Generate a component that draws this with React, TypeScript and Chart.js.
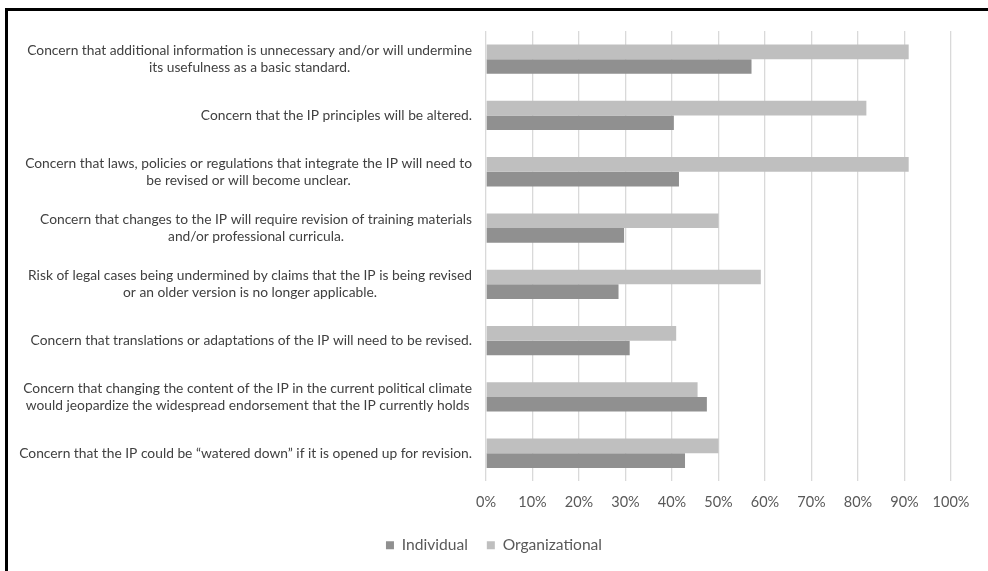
import React, { useEffect, useRef } from "react";
import { Chart, registerables } from "chart.js";

Chart.register(...registerables);

const categories: string[][] = [
  ["Concern that additional information is unnecessary and/or will undermine", "its usefulness as a basic standard."],
  ["Concern that the IP principles will be altered."],
  ["Concern that laws, policies or regulations that integrate the IP will need to", "be revised or will become unclear."],
  ["Concern that changes to the IP will require revision of training materials", "and/or professional curricula."],
  ["Risk of legal cases being undermined by claims that the IP is being revised", "or an older version is no longer applicable."],
  ["Concern that translations or adaptations of the IP will need to be revised."],
  ["Concern that changing the content of the IP in the current political climate", "would jeopardize the widespread endorsement that the IP currently holds"],
  ["Concern that the IP could be \u201cwatered down\u201d if it is opened up for revision."],
];

const organizational: number[] = [90.9, 81.8, 90.9, 50.0, 59.1, 40.9, 45.5, 50.0];
const individual: number[] = [57.1, 40.4, 41.5, 29.7, 28.5, 30.9, 47.5, 42.8];

const xTicks: number[] = [0, 10, 20, 30, 40, 50, 60, 70, 80, 90, 100];

const FONT = "Lato, 'Open Sans', sans-serif";

const wrappedLabels = {
  id: "wrappedLabels",
  afterDraw(chart: any) {
    const y = chart.scales.y;
    const ctx = chart.ctx as CanvasRenderingContext2D;
    ctx.save();
    ctx.font = `13.8px ${FONT}`;
    ctx.fillStyle = "#404040";
    ctx.textAlign = "center";
    ctx.textBaseline = "middle";
    const right = chart.chartArea.left - 14;
    const lh = 17;
    categories.forEach((lines, i) => {
      const cy = y.getPixelForTick(i);
      const w = Math.max(...lines.map((l) => ctx.measureText(l).width));
      const cx = right - w / 2;
      lines.forEach((l, j) => {
        ctx.fillText(l, cx, cy + (j - (lines.length - 1) / 2) * lh);
      });
    });
    ctx.restore();
  },
};

export default function App() {
  const ref = useRef<HTMLCanvasElement | null>(null);

  useEffect(() => {
    if (!ref.current) return;
    Chart.defaults.font.family = FONT;
    const chart = new Chart(ref.current, {
      type: "bar",
      data: {
        labels: categories.map((c) => c.join(" ")),
        datasets: [
          {
            label: "Organizational",
            data: organizational,
            backgroundColor: "#bfbfbf",
            borderWidth: 0,
          },
          {
            label: "Individual",
            data: individual,
            backgroundColor: "#909090",
            borderWidth: 0,
          },
        ],
      },
      options: {
        indexAxis: "y",
        animation: false,
        responsive: false,
        maintainAspectRatio: false,
        datasets: {
          bar: { categoryPercentage: 0.52, barPercentage: 1.0 },
        },
        layout: { padding: { left: 0, right: 0, top: 31, bottom: 8 } },
        scales: {
          x: {
            min: 0,
            max: 100,
            afterBuildTicks: (scale: any) => {
              scale.ticks = xTicks.map((v) => ({ value: v }));
            },
            afterFit: (scale: any) => {
              scale.height = 37;
              scale.paddingRight = 37;
            },
            ticks: {
              callback: (v: any) => `${v}%`,
              color: "#595959",
              font: { size: 14.5, family: FONT },
              padding: 12,
              maxRotation: 0,
            },
            grid: { color: "#d9d9d9", lineWidth: 1.3, drawTicks: false },
            border: { display: false },
          },
          y: {
            ticks: { display: false },
            grid: { display: false },
            border: { display: false },
            afterFit: (scale: any) => {
              scale.width = 486;
            },
          },
        },
        plugins: {
          legend: {
            position: "bottom",
            reverse: true,
            labels: {
              boxWidth: 8,
              boxHeight: 8,
              padding: 19,
              color: "#595959",
              font: { size: 15.6, family: FONT },
            },
          },
          tooltip: { enabled: false },
        },
      },
      plugins: [wrappedLabels],
    });
    const fonts = (document as any).fonts;
    if (fonts && fonts.load) {
      Promise.all([fonts.load(`13px Lato`), fonts.load(`15px Lato`)])
        .then(() => {
          try { chart.update(); } catch (e) {}
        })
        .catch(() => {});
    }
    return () => chart.destroy();
  }, []);

  return (
    <div style={{ position: "fixed", left: 0, top: 0, width: 988, height: 571, background: "#fff", overflow: "hidden" }}>
      <canvas ref={ref} width={988} height={571} style={{ position: "absolute", left: 0, top: 0, width: 988, height: 571 }} />
      <div
        style={{
          position: "absolute",
          left: 5,
          top: 8,
          width: 1100,
          height: 700,
          borderLeft: "3px solid #000",
          borderTop: "3px solid #000",
          pointerEvents: "none",
        }}
      />
    </div>
  );
}
